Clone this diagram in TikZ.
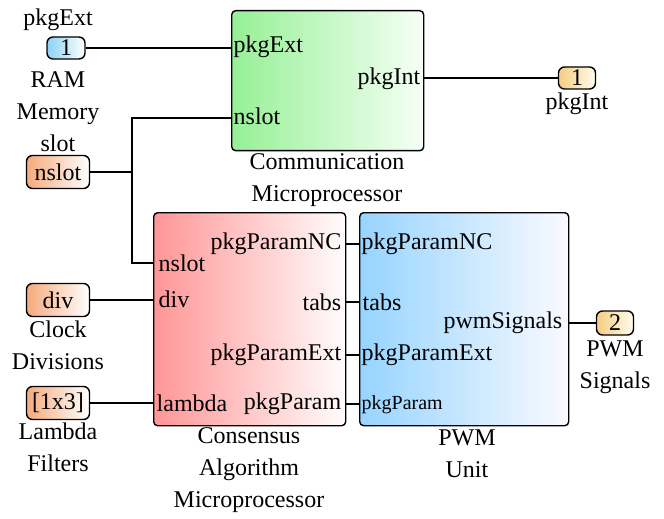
\documentclass[tikz,border=0pt]{standalone}
\usepackage{fontspec}
\setmainfont{Liberation Serif}
\definecolor{commL}{RGB}{150,240,150}
\definecolor{commR}{RGB}{246,255,246}
\definecolor{consL}{RGB}{255,150,150}
\definecolor{consR}{RGB}{255,252,252}
\definecolor{pwmL}{RGB}{150,212,255}
\definecolor{pwmR}{RGB}{250,250,255}
\definecolor{inB}{RGB}{140,210,245}
\definecolor{inO}{RGB}{245,170,125}
\definecolor{outY}{RGB}{245,205,130}
\definecolor{outR}{RGB}{255,252,238}
\begin{document}
\begin{tikzpicture}[x=0.5pt, y=-0.5pt, font=\fontsize{12}{16}\selectfont, line width=0.7pt,
    block/.style={draw, rounded corners=2pt, anchor=north west, inner sep=0pt},
    port/.style={draw, rounded corners=3pt, inner sep=1pt, minimum height=11pt},
    inport/.style={port, left color=inO, right color=white, minimum width=31.5pt, minimum height=16.5pt},
    outport/.style={port, left color=outY, right color=outR, minimum width=18.5pt},
    pin/.style={inner sep=0pt},
    caption/.style={align=center, inner sep=0pt}]
    \useasboundingbox (0,0) rectangle (664,519);

    % blocks
    \node[block, left color=commL, right color=commR, minimum width=96pt, minimum height=70pt] (comm) at (231,10) {};
    \node[block, left color=consL, right color=consR, minimum width=96pt, minimum height=106.5pt] (cons) at (153,212) {};
    \node[block, left color=pwmL, right color=pwmR, minimum width=104.5pt, minimum height=106.5pt] (pwm) at (359,212) {};

    % block pins
    \node[pin, anchor=west] (commExt) at (233,47) {pkgExt};
    \node[pin, anchor=west] (commNslot) at (233,116) {nslot};
    \node[pin, anchor=east] (commInt) at (421,79) {pkgInt};

    \node[pin, anchor=west] (consNslot) at (158,263) {nslot};
    \node[pin, anchor=west] (consDiv) at (158,299) {div};
    \node[pin, anchor=west] (consLambda) at (156,403) {lambda};
    \node[pin, anchor=east] (consNC) at (342,244) {pkgParamNC};
    \node[pin, anchor=east] (consTabs) at (342,302) {tabs};
    \node[pin, anchor=east] (consExt) at (342,355) {pkgParamExt};
    \node[pin, anchor=east] (consParam) at (342,404) {pkgParam};

    \node[pin, anchor=west] (pwmNC) at (361,244) {pkgParamNC};
    \node[pin, anchor=west] (pwmTabs) at (362,302) {tabs};
    \node[pin, anchor=west] (pwmExt) at (361,355) {pkgParamExt};
    \node[pin, anchor=west, font=\fontsize{10}{12}\selectfont] (pwmParam) at (361,405) {pkgParam};
    \node[pin, anchor=east] (pwmSig) at (563,323) {pwmSignals};

    % captions
    \node[caption] (commCap) at (327,180) {Communication\\Microprocessor};
    \node[caption] (consCap) at (249,470) {Consensus\\Algorithm\\Microprocessor};
    \node[caption] (pwmCap) at (467,454) {PWM\\Unit};

    % ports
    \node[port, left color=inB, right color=white, minimum width=19pt] (ramIn) at (66,48) {1};
    \node[caption] (ramTop) at (58,20) {pkgExt};
    \node[caption] (ramCap) at (58,112) {RAM\\Memory\\slot};

    \node[inport] (nslotIn) at (58,172) {nslot};
    \node[inport] (divIn) at (58,300) {div};
    \node[caption] (divCap) at (58,345) {Clock\\Divisions};
    \node[inport] (lambdaIn) at (58,403) {[1x3]};
    \node[caption] (lambdaCap) at (58,447) {Lambda\\Filters};

    \node[outport] (intOut) at (577,78) {1};
    \node[caption] (intCap) at (577,104) {pkgInt};
    \node[outport, minimum height=12pt] (sigOut) at (615,323) {2};
    \node[caption] (sigCap) at (615,367) {PWM\\Signals};

    % connectors
    \coordinate (nslotJ) at (132,172);
    \draw (ramIn.east) -- (ramIn.east -| comm.west);
    \draw (comm.east |- intOut) -- (intOut.west);
    \draw (nslotIn.east) -- (nslotJ);
    \draw (comm.west |- 0,118) -| (nslotJ) |- (cons.west |- consNslot);
    \draw (divIn.east) -- (divIn.east -| cons.west);
    \draw (lambdaIn.east) -- (lambdaIn.east -| cons.west);
    \draw (cons.east |- consNC) -- (pwm.west |- consNC);
    \draw (cons.east |- consTabs) -- (pwm.west |- consTabs);
    \draw (cons.east |- consExt) -- (pwm.west |- consExt);
    \draw (cons.east |- consParam) -- (pwm.west |- consParam);
    \draw (pwm.east |- sigOut) -- (sigOut.west);
\end{tikzpicture}
\end{document}
